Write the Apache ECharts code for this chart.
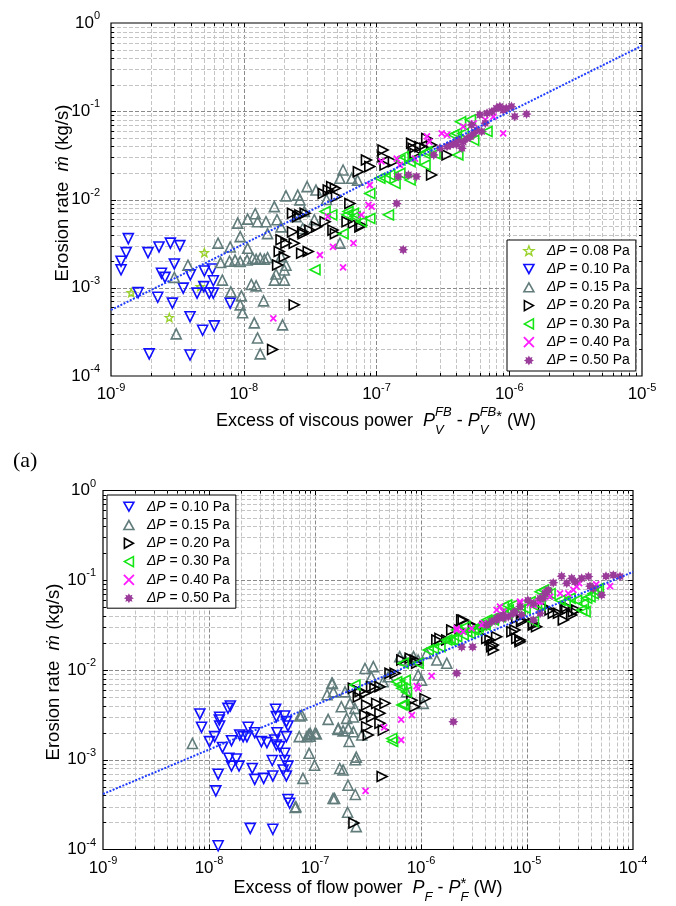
<!DOCTYPE html>
<html><head><meta charset="utf-8">
<script src="https://cdn.jsdelivr.net/npm/echarts@6/dist/echarts.min.js"></script>
<style>html,body{margin:0;padding:0;background:#fff}#c{width:676px;height:906px}</style>
</head><body><div id="c"></div>
<script>
// ---------- tick values ----------
const topXTicks = [1e-9, 1e-8, 1e-7, 1e-6, 1e-5];
const topYTicks = [1e-4, 1e-3, 1e-2, 1e-1, 1];
const botXTicks = [1e-9, 1e-8, 1e-7, 1e-6, 1e-5, 1e-4];
const botYTicks = [1e-4, 1e-3, 1e-2, 1e-1, 1];
const minorMult = [2, 3, 4, 5, 6, 7, 8, 9];

// ---------- fit lines ----------
const fitTop = [[1e-9, 5.6e-4], [1e-5, 0.553]];
const fitBot = [[1e-9, 4.15e-4], [1e-4, 0.124]];

// ---------- TOP chart: viscous power ----------
const tP008 = [[5.05e-9,2.5e-3],[1.42e-9,8.8e-4],[2.75e-9,4.6e-4],[4.7e-9,1.03e-3]];
const tP010 = [[1.35e-9,3.6e-3],[1.30e-9,2.5e-3],[1.19e-9,2.0e-3],[1.19e-9,1.6e-3],[1.9e-9,2.5e-3],[2.3e-9,2.9e-3],[2.8e-9,3.2e-3],[3.3e-9,3.0e-3],[3.0e-9,1.86e-3],[2.4e-9,1.46e-3],[2.55e-9,1.31e-3],[3.96e-9,1.40e-3],[5.05e-9,1.55e-3],[5.8e-9,1.63e-3],[3.5e-9,9.9e-4],[1.6e-9,8.8e-4],[2.25e-9,7.8e-4],[2.9e-9,6.7e-4],[4.45e-9,8.7e-4],[5.0e-9,1.03e-3],[5.5e-9,8.7e-4],[5.9e-9,8.7e-4],[5.9e-9,1.2e-3],[7.9e-9,6.7e-4],[3.94e-9,4.7e-4],[4.9e-9,3.3e-4],[6.0e-9,3.7e-4],[1.94e-9,1.78e-4],[3.94e-9,1.73e-4]];
const tP015 = [[6.4e-9,3.2e-3],[7.9e-9,2.9e-3],[1.07e-8,2.8e-3],[3.8e-9,1.8e-3],[3.0e-9,1.31e-3],[6.9e-9,1.22e-3],[8.0e-9,9.0e-4],[9.6e-9,8.1e-4],[9.4e-9,6.4e-4],[9.8e-9,5.2e-4],[1.14e-8,1.09e-3],[1.24e-8,1.05e-3],[1.2e-8,4.0e-4],[1.41e-8,7.1e-4],[1.96e-8,3.8e-4],[1.27e-8,2.7e-4],[1.33e-8,1.78e-4],[3.1e-9,3.0e-4],[6.7e-9,1.93e-3],[7.8e-9,2.0e-3],[8.6e-9,2.06e-3],[9.4e-9,1.98e-3],[1.06e-8,2.06e-3],[1.17e-8,2.16e-3],[1.24e-8,2.1e-3],[1.33e-8,2.16e-3],[1.43e-8,2.1e-3],[1.51e-8,2.19e-3],[1.75e-8,1.43e-3],[2.02e-8,1.59e-3],[2.08e-8,1.8e-3],[1.91e-8,2.25e-3],[1.7e-8,1.22e-3],[2.02e-8,1.22e-3],[9.0e-9,5.4e-3],[1.07e-8,6.0e-3],[1.22e-8,6.9e-3],[1.27e-8,5.6e-3],[1.47e-8,5.6e-3],[1.51e-8,4.1e-3],[1.91e-8,4.9e-3],[2.08e-8,1.1e-2],[2.55e-8,1.12e-2],[1.7e-8,8.3e-3],[2.48e-8,6.4e-3],[2.86e-8,7.3e-3],[3.4e-8,5.9e-3],[2.78e-8,4.7e-3],[1.78e-8,5.9e-3],[9.4e-9,3.8e-3],[3.0e-8,1.4e-2],[3.5e-8,1.28e-2],[5.3e-8,1.74e-2],[5.6e-8,2.16e-2],[6.5e-8,1.74e-2],[5.3e-8,3.2e-3],[2.65e-8,9.9e-3],[4.2e-8,1.0e-2],[7.2e-8,1.66e-2]];
const tP020 = [[2.33e-8,7.0e-3],[2.55e-8,6.4e-3],[2.33e-8,4.3e-3],[2.78e-8,4.3e-3],[1.91e-8,3.5e-3],[2.08e-8,3.2e-3],[2.4e-8,3.2e-3],[1.85e-8,2.57e-3],[1.8e-8,1.81e-3],[2.02e-8,2.25e-3],[2.4e-8,6.4e-4],[1.65e-8,2.0e-4],[2.65e-8,6.7e-3],[2.9e-8,7.0e-3],[2.8e-8,4.1e-3],[3.15e-8,4.5e-3],[3.54e-8,4.9e-3],[4.1e-8,5.6e-3],[4.7e-8,4.5e-3],[4.9e-8,4.1e-3],[2.73e-8,2.46e-3],[3.06e-8,2.57e-3],[3.97e-8,1.17e-2],[4.33e-8,1.28e-2],[4.6e-8,1.4e-2],[4.9e-8,1.34e-2],[5.0e-8,1.08e-2],[6.0e-8,5.6e-3],[6.3e-8,9.0e-3],[7.3e-8,2.06e-2],[8.4e-8,2.8e-2],[8.9e-8,2.36e-2],[1.12e-7,3.64e-2],[1.12e-7,3.06e-2],[1.16e-7,2.46e-2],[1.34e-7,2.68e-2],[1.84e-7,4.33e-2],[1.89e-7,3.8e-2],[1.95e-7,3.33e-2],[2.13e-7,3.97e-2],[2.32e-7,3.8e-2],[2.6e-7,4.15e-2],[2.39e-7,4.9e-2],[2.6e-7,1.9e-2],[3.4e-7,3.2e-2],[6.7e-8,5.4e-3],[7.7e-8,5.1e-3],[7.5e-8,4.9e-3]];
const tP030 = [[4.1e-8,7.3e-3],[4.6e-8,6.7e-3],[6.0e-8,6.7e-3],[6.1e-8,7.3e-3],[6.7e-8,7.0e-3],[6.9e-8,6.4e-3],[7.7e-8,5.6e-3],[8.9e-8,6.1e-3],[1.23e-7,6.7e-3],[8.9e-8,1.17e-2],[5.6e-8,4.1e-3],[3.44e-8,1.6e-3],[1.06e-7,1.74e-2],[1.16e-7,1.74e-2],[1.38e-7,1.52e-2],[1.26e-7,1.9e-2],[1.5e-7,2.8e-2],[1.59e-7,3.06e-2],[1.79e-7,2.68e-2],[1.95e-7,2.8e-2],[2.32e-7,2.46e-2],[2.32e-7,3.33e-2],[2.39e-7,3.48e-2],[2.76e-7,3.3e-2],[4.1e-7,3.2e-2],[4.0e-7,5.6e-2],[4.5e-7,5.6e-2],[4.3e-7,7.6e-2],[5.1e-7,8.0e-2],[5.4e-7,4.7e-2],[6.8e-7,5.9e-2],[3.8e-7,5.4e-2],[1.5e-7,1.98e-2],[1.79e-7,1.66e-2]];
const tP040 = [[1.67e-8,4.5e-4],[4.3e-8,6.4e-3],[4.7e-8,2.9e-3],[3.75e-8,2.35e-3],[5.6e-8,1.7e-3],[6.7e-8,3.2e-3],[7.7e-8,6.7e-3],[8.7e-8,8.7e-3],[9.2e-8,8.3e-3],[8.9e-8,1.46e-2],[1.09e-7,2.7e-2],[1.42e-7,2.9e-2],[1.5e-7,2.46e-2],[1.95e-7,2.9e-2],[2.4e-7,5.2e-2],[2.5e-7,4.5e-2],[3.1e-7,5.6e-2],[3.4e-7,5.4e-2],[4.5e-7,6.7e-2],[5.4e-7,7.3e-2],[6.6e-7,8.0e-2],[9.0e-7,5.6e-2],[7.6e-7,8.7e-2]];
const tP050 = [[1.42e-7,9.0e-3],[1.59e-7,2.7e-3],[1.46e-7,1.82e-2],[1.74e-7,1.9e-2],[2.0e-7,1.82e-2],[2.7e-7,3.2e-2],[3.0e-7,3.8e-2],[3.4e-7,4.0e-2],[3.6e-7,4.15e-2],[3.8e-7,4.3e-2],[4.1e-7,4.7e-2],[4.5e-7,4.5e-2],[4.8e-7,4.9e-2],[5.1e-7,5.15e-2],[5.4e-7,5.6e-2],[5.7e-7,6.1e-2],[6.2e-7,5.9e-2],[6.0e-7,9.1e-2],[6.8e-7,9.5e-2],[7.4e-7,9.9e-2],[8.0e-7,0.108],[8.5e-7,0.113],[9.0e-7,0.103],[9.5e-7,0.108],[1.04e-6,0.113],[1.1e-6,8.7e-2],[1.35e-6,9.3e-2],[6.6e-7,7.3e-2],[5.2e-7,7.0e-2],[4.4e-7,3.8e-2],[4.0e-7,4.2e-2]];

// ---------- BOTTOM chart: flow power ----------
const bP010 = [[8.2e-9,3.24e-3],[8.5e-9,2.3e-3],[1.01e-8,1.59e-3],[1.13e-8,1.81e-3],[1.26e-8,2.97e-3],[1.25e-8,2.77e-3],[1.26e-8,2.38e-3],[1.51e-8,3.74e-3],[1.59e-8,3.97e-3],[1.34e-8,1.37e-3],[1.63e-8,1.63e-3],[1.95e-8,1.89e-3],[2.1e-8,1.81e-3],[2.34e-8,2.3e-3],[2.28e-8,1.81e-3],[2.7e-8,2.0e-3],[3.12e-8,1.59e-3],[3.52e-8,1.55e-3],[4.25e-8,3.65e-3],[4.32e-8,3.02e-3],[4.38e-8,2.0e-3],[4.16e-8,1.66e-3],[4.32e-8,1.46e-3],[4.65e-8,1.4e-3],[5.18e-8,3.07e-3],[5.37e-8,2.66e-3],[5.56e-8,2.38e-3],[5.37e-8,1.81e-3],[5.18e-8,1.18e-3],[3.95e-8,9.8e-4],[1.54e-8,1.04e-3],[1.81e-8,1.02e-3],[1.63e-8,8.5e-4],[1.92e-8,8.5e-4],[2.56e-8,8.0e-4],[5.18e-8,9.8e-4],[5.56e-8,8.5e-4],[5.0e-8,7.7e-4],[5.37e-8,6.6e-4],[1.22e-8,6.9e-4],[2.7e-8,6.05e-4],[3.28e-8,6.2e-4],[4.0e-8,6.6e-4],[1.16e-8,4.5e-4],[5.56e-8,3.6e-4],[5.77e-8,3.27e-4],[2.45e-8,1.72e-4],[4.0e-8,1.68e-4],[1.22e-8,1.1e-4]];
const bP015 = [[6.97e-9,1.52e-3],[7.2e-8,3.07e-3],[7.1e-8,1.81e-3],[8.4e-8,1.81e-3],[9.0e-8,1.83e-3],[1.03e-7,1.94e-3],[8.8e-8,1.18e-3],[9.9e-8,8.7e-4],[7.7e-8,6.2e-4],[6.5e-8,2.95e-4],[1.48e-7,3.7e-4],[1.3e-7,5.3e-3],[1.46e-7,7.1e-3],[1.33e-7,2.82e-3],[1.65e-7,2.18e-3],[1.77e-7,3.9e-3],[1.71e-7,8.0e-4],[7.5e-8,3.15e-3],[9.0e-8,1.97e-3],[1.0e-7,1.97e-3],[1.44e-7,7.1e-3],[1.49e-7,5.7e-3],[1.92e-7,5.7e-3],[2.14e-7,4.25e-3],[2.38e-7,3.74e-3],[1.99e-7,2.89e-3],[1.66e-7,2.24e-3],[2.06e-7,2.24e-3],[2.3e-7,2.05e-3],[2.76e-7,1.89e-3],[2.96e-7,1.04e-2],[3.55e-7,1.09e-2],[4.4e-7,7.4e-3],[4.9e-7,8.4e-3],[6.3e-7,1.41e-2],[7.1e-7,1.29e-2],[8.5e-7,1.41e-2],[9.4e-7,1.29e-2],[1.13e-6,1.53e-2],[1.41e-6,1.29e-2],[1.75e-6,1.19e-2],[9.4e-7,8.8e-3],[1.01e-6,7.7e-3],[1.05e-6,4.25e-3],[7.3e-7,5.7e-3],[2.3e-7,3.0e-3],[3.4e-7,8.4e-3],[1.53e-7,3.7e-4],[2.03e-7,2.6e-4],[2.4e-7,4.1e-4],[2.05e-7,5.2e-4],[2.45e-7,1.8e-4],[6.6e-8,3.0e-4],[1.84e-7,7.7e-4],[2.45e-7,1.07e-3],[2.4e-7,1.0e-3],[2.1e-7,1.6e-3],[1.84e-7,2.1e-3],[8.7e-8,1.9e-3]];
const bP020 = [[2.3e-7,6.25e-3],[2.66e-7,5.74e-3],[2.96e-7,5.5e-3],[3.42e-7,6.5e-3],[3.68e-7,6.25e-3],[4.1e-7,6.5e-3],[2.56e-7,5.0e-3],[3.07e-7,4.07e-3],[3.82e-7,4.25e-3],[4.57e-7,4.25e-3],[2.96e-7,3.15e-3],[3.42e-7,3.0e-3],[4.1e-7,3.3e-3],[3.07e-7,2.34e-3],[4.1e-7,2.55e-3],[3.18e-7,1.89e-3],[4.41e-7,2.14e-3],[5.1e-7,9.2e-3],[5.7e-7,9.2e-3],[6.6e-7,1.29e-2],[7.9e-7,1.35e-2],[8.8e-7,1.29e-2],[9.1e-7,1.19e-2],[8.2e-7,4.6e-3],[1.09e-6,4.8e-3],[8.7e-7,3.9e-3],[1.41e-6,2.16e-2],[1.51e-6,2.25e-2],[1.75e-6,2.16e-2],[2.42e-6,3.6e-2],[3.12e-6,3.04e-2],[4.17e-6,2.25e-2],[4.48e-6,2.16e-2],[4.81e-6,1.9e-2],[5.17e-6,2.35e-2],[8.0e-6,3.77e-2],[8.9e-6,3.46e-2],[1.15e-5,3.17e-2],[1.23e-5,3.04e-2],[7.7e-6,2.79e-2],[8.6e-6,2.16e-2],[2.5e-6,3.6e-2],[1.95e-6,2.79e-2],[2.33e-6,2.79e-2],[3.23e-6,3.04e-2],[4.02e-6,3.04e-2],[4.64e-6,1.82e-2],[4.81e-6,1.67e-2],[7.2e-6,2.67e-2],[8.0e-6,2.25e-2],[8.6e-6,2.07e-2],[8.9e-6,3.6e-2],[1.15e-5,3.31e-2],[1.65e-5,4.67e-2],[1.77e-5,4.28e-2],[1.98e-5,4.28e-2],[2.29e-5,4.67e-2],[2.37e-5,5.08e-2],[2.64e-5,4.1e-2],[2.74e-5,4.47e-2],[2.94e-5,4.67e-2],[2.2e-5,3.6e-2],[1.43e-5,5.08e-2],[2.33e-7,1.97e-4],[4.3e-7,6.5e-4]];
const bP030 = [[2.38e-7,6.8e-3],[5.9e-7,7.4e-3],[6.3e-7,6.8e-3],[6.6e-7,6.25e-3],[7.3e-7,5.7e-3],[7.1e-7,7.7e-3],[6.8e-7,1.19e-2],[9.4e-7,1.19e-2],[1.17e-6,1.67e-2],[1.31e-6,1.74e-2],[1.51e-6,1.82e-2],[1.75e-6,2.16e-2],[2.02e-6,2.16e-2],[2.17e-6,2.35e-2],[2.5e-6,2.46e-2],[2.7e-6,2.67e-2],[3.12e-6,2.79e-2],[3.47e-6,3.04e-2],[3.73e-6,3.17e-2],[4.17e-6,3.6e-2],[4.81e-6,3.77e-2],[5.56e-6,3.93e-2],[6.6e-7,4.07e-3],[5.3e-7,1.73e-3],[6.4e-6,4.28e-2],[7.4e-6,5.3e-2],[8.6e-6,4.67e-2],[1.07e-5,5.77e-2],[1.33e-5,7.46e-2],[1.15e-5,3.46e-2],[1.88e-6,2.16e-2],[2.17e-6,2.79e-2],[2.6e-6,3.04e-2],[2.9e-6,2.56e-2],[3.35e-6,2.79e-2],[4.02e-6,3.17e-2],[4.81e-6,3.6e-2],[5.98e-6,5.08e-2],[6.43e-6,5.3e-2],[6.66e-6,4.67e-2],[8.6e-6,4.67e-2],[9.6e-6,4.87e-2],[1.23e-5,5.08e-2],[1.33e-5,5.3e-2],[1.43e-5,7.8e-2],[1.53e-5,7.1e-2],[1.65e-5,7.1e-2],[2.05e-5,6.0e-2],[2.29e-5,5.77e-2],[2.55e-5,6.3e-2],[2.94e-5,6.0e-2],[3.4e-5,5.5e-2],[3.66e-5,6.3e-2],[3.93e-5,6.56e-2],[4.22e-5,7.1e-2],[4.54e-5,7.5e-2],[4.71e-5,8.1e-2],[3.28e-5,4.67e-2],[3.53e-5,4.47e-2],[5.4e-7,1.6e-3],[6.9e-7,4.1e-3]];
const bP040 = [[3.0e-7,4.5e-4],[4.5e-7,2.3e-3],[6.5e-7,1.66e-3],[6.5e-7,2.8e-3],[8.2e-7,3.15e-3],[9.1e-7,6.6e-3],[9.4e-7,6.25e-3],[1.26e-6,8.6e-3],[2.17e-6,2.79e-2],[2.5e-6,2.67e-2],[3.0e-6,2.91e-2],[3.9e-6,3.31e-2],[5.17e-6,4.67e-2],[6.0e-6,4.47e-2],[8.6e-6,5.77e-2],[1.15e-5,5.3e-2],[1.28e-5,5.77e-2],[2.17e-6,2.91e-2],[3.73e-6,3.17e-2],[5.56e-6,5.08e-2],[8.6e-6,5.53e-2],[1.07e-5,5.53e-2],[1.33e-5,5.77e-2],[1.65e-5,6.56e-2],[2.05e-5,7.14e-2],[2.45e-5,7.14e-2],[2.74e-5,7.8e-2],[2.94e-5,8.5e-2],[6.07e-5,8.6e-2],[3.1e-5,9.3e-2],[4.5e-5,9.0e-2]];
const bP050 = [[2.17e-6,9.2e-3],[2.02e-6,2.65e-3],[2.42e-6,1.8e-2],[3.07e-6,1.8e-2],[4.17e-6,3.17e-2],[4.64e-6,3.46e-2],[5.17e-6,3.6e-2],[5.56e-6,3.93e-2],[6.0e-6,3.77e-2],[6.66e-6,3.93e-2],[7.43e-6,4.28e-2],[8.6e-6,5.08e-2],[1.02e-5,6.0e-2],[1.15e-5,5.5e-2],[1.33e-5,6.3e-2],[1.48e-5,7.14e-2],[1.59e-5,7.8e-2],[5.17e-6,3.77e-2],[5.98e-6,4.1e-2],[7.7e-6,4.47e-2],[8.9e-6,4.1e-2],[1.15e-5,3.6e-2],[1.33e-5,4.28e-2],[1.53e-5,7.46e-2],[1.77e-5,9.4e-2],[2.12e-5,0.111],[2.64e-5,0.105],[2.84e-5,9.6e-2],[3.28e-5,0.105],[3.8e-5,0.11],[3.93e-5,8.6e-2],[5.06e-5,6.85e-2],[5.56e-5,0.111],[6.52e-5,0.114],[7.54e-5,0.11],[1.43e-5,6.3e-2],[2.37e-5,9.25e-2],[4.22e-5,8.1e-2]];

// ---------- styles ----------
const FONT = '"Liberation Sans", Arial, "DejaVu Sans", sans-serif';
function burstPath(n, R, r) {
  let s = 'path://';
  for (let k = 0; k < 2 * n; k++) {
    const a = -Math.PI / 2 + k * Math.PI / n, rr = k % 2 ? r : R;
    s += (k ? 'L' : 'M') + (10 + rr * Math.cos(a)).toFixed(2) + ',' + (10 + rr * Math.sin(a)).toFixed(2);
  }
  return s + 'Z';
}
const STAR = burstPath(5, 10, 4.2);
const BURST = burstPath(8, 10, 6);
const CROSS = 'path://M0,0L10,10M10,0L0,10';
const TRI_UP = 'path://M5,0L10,9L0,9Z';
const TRI_DOWN = 'path://M0,0L10,0L5,9Z';
const TRI_RIGHT = 'path://M0,0L9,5L0,10Z';
const TRI_LEFT = 'path://M9,0L0,5L9,10Z';
const kinds = {
  '0.08': {symbol: STAR, color: '#9ad22c', hollow: true, size: 8, bw: 1.4},
  '0.10': {symbol: TRI_DOWN, color: '#1010ff', hollow: true, size: 10, bw: 1.6},
  '0.15': {symbol: TRI_UP, color: '#627c7c', hollow: true, size: 10, bw: 1.6},
  '0.20': {symbol: TRI_RIGHT, color: '#000000', hollow: true, size: 10, bw: 1.6},
  '0.30': {symbol: TRI_LEFT, color: '#14e614', hollow: true, size: 10, bw: 1.6},
  '0.40': {symbol: CROSS, color: '#ff1aff', hollow: true, size: 6, bw: 1.8},
  '0.50': {symbol: BURST, color: '#9a3b9a', hollow: false, size: 10, bw: 0}
};
function styleOf(k) {
  return k.hollow ? {color: 'rgba(0,0,0,0)', borderColor: k.color, borderWidth: k.bw, opacity: 1}
                  : {color: k.color, borderWidth: 0, opacity: 1};
}
function scat(prefix, key, data, gi) {
  const k = kinds[key];
  return {
    type: 'scatter', name: prefix + '|' + key, data: data,
    xAxisIndex: gi, yAxisIndex: gi, symbol: k.symbol, symbolSize: k.size,
    itemStyle: styleOf(k), emphasis: {disabled: true}, silent: true, z: 3
  };
}
function gridData(xT, yT, yRef, xRef) {
  const d = [];
  xT.forEach((m, i) => { d.push([m, yRef, 0]); if (i < xT.length - 1) minorMult.forEach(k => d.push([m * k, yRef, 1])); });
  yT.forEach((m, i) => { d.push([xRef, m, 2]); if (i < yT.length - 1) minorMult.forEach(k => d.push([xRef, m * k, 3])); });
  return d;
}
function renderGrid(params, api) {
  const cs = params.coordSys;
  const kind = api.value(2);
  const p = api.coord([api.value(0), api.value(1)]);
  const major = kind === 0 || kind === 2;
  const tl = major ? 5 : 3;
  const gl = {stroke: major ? '#8a8a8a' : '#c4c4c4', lineWidth: 1, lineDash: [4, 2]};
  const tk = {stroke: '#000', lineWidth: 1};
  const ch = [];
  if (kind < 2) {
    const x = Math.round(p[0]) + 0.5;
    const edge = Math.abs(p[0] - cs.x) < 1.5 || Math.abs(p[0] - cs.x - cs.width) < 1.5;
    if (!edge) {
      ch.push({type: 'line', shape: {x1: x, y1: cs.y, x2: x, y2: cs.y + cs.height}, style: gl});
      ch.push({type: 'line', shape: {x1: x, y1: cs.y + cs.height, x2: x, y2: cs.y + cs.height - tl}, style: tk});
      ch.push({type: 'line', shape: {x1: x, y1: cs.y, x2: x, y2: cs.y + tl}, style: tk});
    }
  } else {
    const y = Math.round(p[1]) + 0.5;
    const edge = Math.abs(p[1] - cs.y) < 1.5 || Math.abs(p[1] - cs.y - cs.height) < 1.5;
    if (!edge) {
      ch.push({type: 'line', shape: {x1: cs.x, y1: y, x2: cs.x + cs.width, y2: y}, style: gl});
      ch.push({type: 'line', shape: {x1: cs.x, y1: y, x2: cs.x + tl, y2: y}, style: tk});
      ch.push({type: 'line', shape: {x1: cs.x + cs.width, y1: y, x2: cs.x + cs.width - tl, y2: y}, style: tk});
    }
  }
  return {type: 'group', children: ch};
}
function gridSeries(gi, xT, yT) {
  return {type: 'custom', coordinateSystem: 'cartesian2d', xAxisIndex: gi, yAxisIndex: gi,
    data: gridData(xT, yT, yT[1], xT[1]), encode: {x: 0, y: 1}, renderItem: renderGrid,
    silent: true, z: 1, clip: false, animation: false};
}
function fitSeries(gi, data) {
  return {type: 'line', data: data, xAxisIndex: gi, yAxisIndex: gi, showSymbol: false, symbol: 'none',
    lineStyle: {color: '#1f3cff', width: 2, type: [2, 1.5]}, silent: true, z: 5, emphasis: {disabled: true}};
}
const expRich = {
  a: {fontSize: 17, fontFamily: FONT, color: '#000'},
  s: {fontSize: 11, fontFamily: FONT, color: '#000', padding: [0, 0, 14, 0]}
};
const expFmt = v => '{a|10}{s|' + Math.round(Math.log10(v)) + '}';
function xAx(gi, min, max) {
  return {type: 'log', logBase: 10, gridIndex: gi, min: min, max: max,
    axisLine: {show: false}, axisTick: {show: false}, splitLine: {show: false}, minorTick: {show: false},
    axisLabel: {formatter: expFmt, rich: expRich, margin: 6, showMinLabel: true, showMaxLabel: true}};
}
function yAx(gi, min, max, margin) {
  return {type: 'log', logBase: 10, gridIndex: gi, min: min, max: max,
    axisLine: {show: false}, axisTick: {show: false}, splitLine: {show: false}, minorTick: {show: false},
    axisLabel: {formatter: expFmt, rich: expRich, margin: margin, showMinLabel: true, showMaxLabel: true}};
}
function legendOf(names, left, top, pad) {
  return {orient: 'vertical', left: left, top: top, padding: pad, itemGap: 4.3,
    data: names.map(n => {
      const k = kinds[n.split('|')[1]];
      return {name: n, icon: k.symbol, itemStyle: styleOf(k)};
    }),
    itemWidth: 10, itemHeight: 10, borderColor: '#000', borderWidth: 1, backgroundColor: '#fff',
    borderRadius: 0, selectedMode: false, z: 10,
    formatter: n => '{i|ΔP} = ' + n.split('|')[1] + ' Pa',
    textStyle: {fontSize: 14, fontFamily: FONT, color: '#000', lineHeight: 14, padding: [0, 0, 0, 8],
      rich: {i: {fontSize: 14, fontFamily: FONT, fontStyle: 'italic', color: '#000', lineHeight: 14}}}};
}

// ---------- rich titles (measured pieces) ----------
const mctx = document.createElement('canvas').getContext('2d');
function fnt(s, i) { return (i ? 'italic ' : '') + s + 'px ' + FONT; }
function titleGroup(segs, cx, cy, rot) {
  let x = 0, pend = 0; const items = [];
  segs.forEach(g => {
    mctx.font = fnt(g.s, g.i); const w = mctx.measureText(g.t).width;
    items.push({x: x, g: g});
    if (g.stack) { pend = w; } else { x += Math.max(w, pend); pend = 0; }
  });
  const W = x;
  return {type: 'group', x: cx, y: cy, rotation: rot || 0, silent: true,
    children: items.map(it => ({type: 'text', x: it.x - W / 2, y: it.g.dy || 0,
      style: {text: it.g.t, font: fnt(it.g.s, it.g.i), fill: '#000', align: 'left', verticalAlign: 'middle'}}))};
}
const topXTitle = [{t: 'Excess of viscous power  ', s: 18}, {t: 'P', s: 18, i: 1},
  {t: 'V', s: 13, i: 1, dy: 9, stack: 1}, {t: 'FB', s: 13, i: 1, dy: -9}, {t: ' - ', s: 18},
  {t: 'P', s: 18, i: 1}, {t: 'V', s: 13, i: 1, dy: 9, stack: 1}, {t: 'FB', s: 13, i: 1, dy: -9},
  {t: '*', s: 15, dy: -4}, {t: ' (W)', s: 18}];
const botXTitle = [{t: 'Excess of flow power  ', s: 18}, {t: 'P', s: 18, i: 1},
  {t: 'F', s: 13, i: 1, dy: 9}, {t: ' - ', s: 18}, {t: 'P', s: 18, i: 1},
  {t: 'F', s: 13, i: 1, dy: 9, stack: 1}, {t: '*', s: 15, dy: -4}, {t: ' (W)', s: 18}];
const yTitle = [{t: 'Erosion rate  ', s: 18.5}, {t: 'ṁ', s: 18.5, i: 1}, {t: ' (kg/s)', s: 18.5}];

const chart = echarts.init(document.getElementById('c'), null, {renderer: 'canvas'});
chart.setOption({
  animation: false,
  backgroundColor: '#fff',
  grid: [
    {left: 111, top: 23, width: 531, height: 353, show: true, borderColor: '#000', borderWidth: 1.2, backgroundColor: '#fff', containLabel: false, outerBoundsMode: 'none'},
    {left: 103, top: 490.5, width: 530, height: 359, show: true, borderColor: '#000', borderWidth: 1.2, backgroundColor: '#fff', containLabel: false, outerBoundsMode: 'none'}
  ],
  xAxis: [xAx(0, 1e-9, 1e-5), xAx(1, 1e-9, 1e-4)],
  yAxis: [yAx(0, 1e-4, 1, 11), yAx(1, 1e-4, 1, 7)],
  legend: [
    legendOf(['t|0.08', 't|0.10', 't|0.15', 't|0.20', 't|0.30', 't|0.40', 't|0.50'], 507, 240, [3.7, 6, 3.5, 16]),
    legendOf(['b|0.10', 'b|0.15', 'b|0.20', 'b|0.30', 'b|0.40', 'b|0.50'], 107, 495, [4.7, 6, 3, 16])
  ],
  graphic: [
    titleGroup(topXTitle, 376, 421),
    titleGroup(yTitle, 63, 193, Math.PI / 2),
    titleGroup(botXTitle, 368, 888),
    titleGroup(yTitle, 54, 672, Math.PI / 2),
    {type: 'text', x: 13, y: 461, silent: true, style: {text: '(a)', font: '22px "Liberation Serif", "Times New Roman", serif', fill: '#000', align: 'left', verticalAlign: 'middle'}}
  ],
  series: [
    gridSeries(0, topXTicks, topYTicks),
    gridSeries(1, botXTicks, botYTicks),
    scat('t', '0.08', tP008, 0), scat('t', '0.10', tP010, 0), scat('t', '0.15', tP015, 0),
    scat('t', '0.20', tP020, 0), scat('t', '0.30', tP030, 0), scat('t', '0.40', tP040, 0), scat('t', '0.50', tP050, 0),
    scat('b', '0.10', bP010, 1), scat('b', '0.15', bP015, 1), scat('b', '0.20', bP020, 1),
    scat('b', '0.30', bP030, 1), scat('b', '0.40', bP040, 1), scat('b', '0.50', bP050, 1),
    fitSeries(0, fitTop), fitSeries(1, fitBot)
  ]
});
</script></body></html>
